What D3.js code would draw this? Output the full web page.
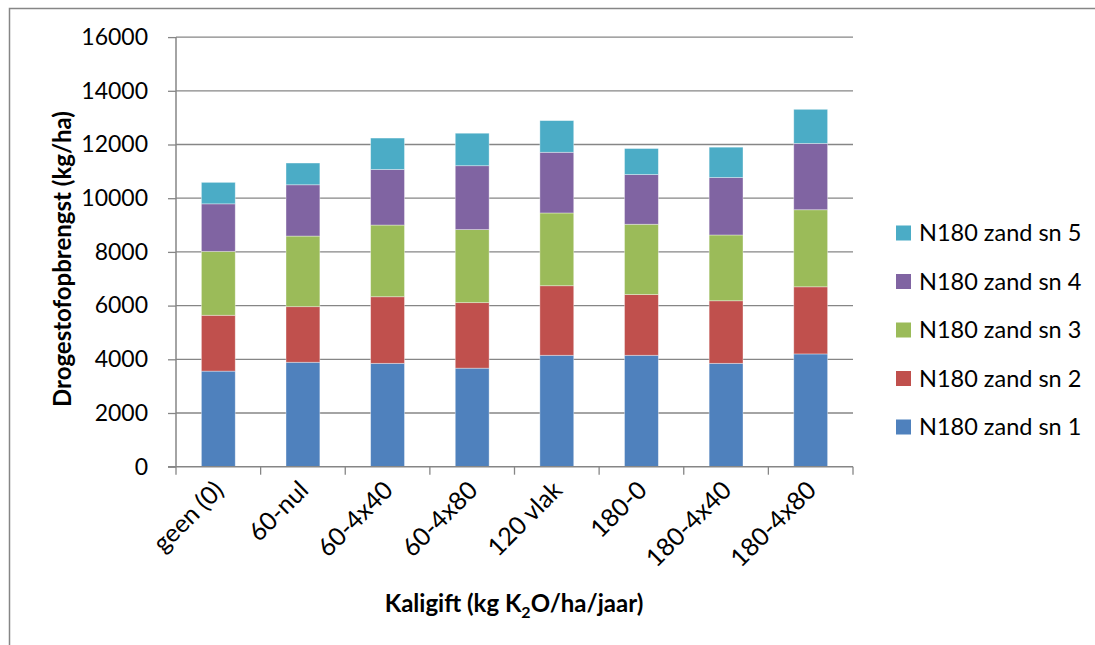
<!DOCTYPE html>
<html>
<head>
<meta charset="utf-8">
<script src="https://cdn.jsdelivr.net/npm/d3@7"></script>
<style>
  html, body { margin: 0; padding: 0; background: #fff; }
  svg { display: block; font-family: Lato, "Open Sans", sans-serif; }
</style>
</head>
<body>
<svg id="chart" width="1095" height="645"></svg>
<script>
// Kaligift treatments on the x axis
const categories = ["geen (0)", "60-nul", "60-4x40", "60-4x80", "120 vlak", "180-0", "180-4x40", "180-4x80"];

// Dry matter yield per cut (kg/ha), stacked from cut 1 upwards
const sn1 = [3560, 3890, 3850, 3670, 4150, 4150, 3850, 4200];
const sn2 = [2080, 2070, 2480, 2440, 2590, 2260, 2330, 2500];
const sn3 = [2380, 2630, 2670, 2720, 2710, 2620, 2450, 2870];
const sn4 = [1770, 1910, 2070, 2380, 2260, 1850, 2140, 2470];
const sn5 = [800, 810, 1170, 1210, 1180, 970, 1130, 1270];

const seriesNames = ["N180 zand sn 1", "N180 zand sn 2", "N180 zand sn 3", "N180 zand sn 4", "N180 zand sn 5"];
const seriesColors = ["#4F81BD", "#C0504D", "#9BBB59", "#8064A2", "#4BACC6"];
const yTicks = [0, 2000, 4000, 6000, 8000, 10000, 12000, 14000, 16000];

const svg = d3.select("#chart");
const gridColor = "#868686";

// outer chart frame
svg.append("rect")
  .attr("x", 9.5).attr("y", 8.5)
  .attr("width", 1200).attr("height", 800)
  .attr("fill", "none").attr("stroke", gridColor).attr("stroke-width", 1.5);

const plot = { left: 176, right: 853, top: 37.1, bottom: 466.7 };

const x = d3.scaleBand().domain(categories).range([plot.left, plot.right]).padding(0);
const y = d3.scaleLinear().domain([0, 16000]).range([plot.bottom, plot.top]);

// horizontal gridlines
svg.append("g")
  .selectAll("line")
  .data(yTicks.filter(d => d > 0))
  .join("line")
  .attr("x1", plot.left).attr("x2", plot.right)
  .attr("y1", d => y(d)).attr("y2", d => y(d))
  .attr("stroke", gridColor).attr("stroke-width", 1.3);

// stacked bars
const rows = categories.map((c, i) => ({ cat: c, s0: sn1[i], s1: sn2[i], s2: sn3[i], s3: sn4[i], s4: sn5[i] }));
const stack = d3.stack().keys(["s0", "s1", "s2", "s3", "s4"]);
const layers = stack(rows);
const barW = x.bandwidth() * 0.4;

svg.append("g")
  .selectAll("g")
  .data(layers)
  .join("g")
  .attr("fill", (d, i) => seriesColors[i])
  .selectAll("rect")
  .data(d => d)
  .join("rect")
  .attr("x", d => x(d.data.cat) + (x.bandwidth() - barW) / 2)
  .attr("width", barW)
  .attr("y", d => y(d[1]))
  .attr("height", d => y(d[0]) - y(d[1]))
  .attr("stroke", "rgba(255,255,255,0.45)")
  .attr("stroke-width", 0.8);

// y axis
const yAxis = d3.axisLeft(y).tickValues(yTicks).tickSize(8).tickPadding(20).tickFormat(d3.format("d"));
const gy = svg.append("g").attr("transform", `translate(${plot.left},0)`).call(yAxis);
gy.select(".domain").attr("stroke", gridColor).attr("stroke-width", 1.5).attr("d", `M0,${plot.bottom}V${plot.top}`);
gy.selectAll(".tick line").attr("stroke", gridColor).attr("stroke-width", 1.3);
gy.selectAll(".tick text")
  .attr("font-family", "Lato, sans-serif").attr("font-size", 23).attr("fill", "#000");

// x axis: ticks at category boundaries
const gx = svg.append("g");
gx.append("line")
  .attr("x1", plot.left - 8).attr("x2", plot.right)
  .attr("y1", plot.bottom).attr("y2", plot.bottom)
  .attr("stroke", gridColor).attr("stroke-width", 1.5);
const bounds = categories.map(c => x(c)).concat([plot.right]);
gx.selectAll("line.tk")
  .data(bounds)
  .join("line")
  .attr("class", "tk")
  .attr("x1", d => d).attr("x2", d => d)
  .attr("y1", plot.bottom).attr("y2", plot.bottom + 8)
  .attr("stroke", gridColor).attr("stroke-width", 1.3);

gx.selectAll("text")
  .data(categories)
  .join("text")
  .attr("transform", d => `translate(${x(d) + x.bandwidth() / 2 + 7},${plot.bottom + 25}) rotate(-45)`)
  .attr("text-anchor", "end")
  .attr("font-size", 25)
  .attr("fill", "#000")
  .text(d => d);

// axis titles
svg.append("text")
  .attr("transform", `translate(71,259) rotate(-90)`)
  .attr("text-anchor", "middle")
  .attr("font-weight", "bold")
  .attr("font-size", 24)
  .attr("fill", "#000")
  .text("Drogestofopbrengst (kg/ha)");

const xt = svg.append("text")
  .attr("x", 514).attr("y", 612)
  .attr("text-anchor", "middle")
  .attr("font-weight", "bold")
  .attr("font-size", 24)
  .attr("fill", "#000");
xt.append("tspan").text("Kaligift (kg K");
xt.append("tspan").attr("font-size", 16).attr("dy", 6).text("2");
xt.append("tspan").attr("dy", -6).text("O/ha/jaar)");

// legend, top entry is the last series
const legend = svg.append("g");
const order = [4, 3, 2, 1, 0];
const lg = legend.selectAll("g")
  .data(order)
  .join("g")
  .attr("transform", (d, i) => `translate(896,${233 + i * 48.5})`);
lg.append("rect")
  .attr("x", 0).attr("y", -7.5).attr("width", 15).attr("height", 15)
  .attr("fill", d => seriesColors[d]);
lg.append("text")
  .attr("x", 23).attr("y", 0)
  .attr("dy", "0.36em")
  .attr("font-size", 23.5)
  .attr("fill", "#000")
  .text(d => seriesNames[d]);
</script>
</body>
</html>
